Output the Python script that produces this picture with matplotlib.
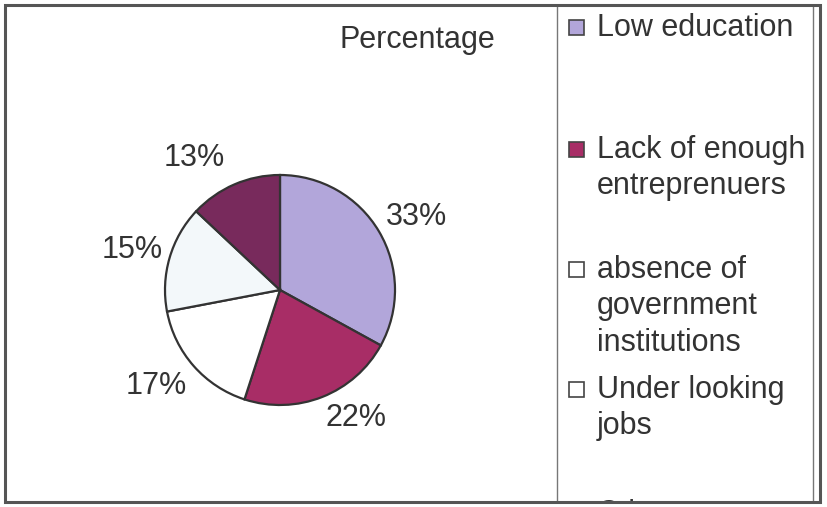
import matplotlib
matplotlib.use("Agg")
import matplotlib.pyplot as plt
from matplotlib.patches import Rectangle

plt.rcParams['font.family'] = ['Liberation Sans', 'DejaVu Sans']

# data
categories = ["Low education", "Lack of enough\nentreprenuers",
              "absence of\ngovernment\ninstitutions", "Under looking\njobs", "Other"]
values = [33, 22, 17, 15, 13]
colors = ["#b2a6da", "#a82d66", "#ffffff", "#f3f8fa", "#782a5c"]
legend_colors = ["#b2a6da", "#a82d66", "#ffffff", "#ffffff", "#782a5c"]
title = "Percentage"

W, H = 827, 507
txt = "#333333"
fs = 22

fig = plt.figure(figsize=(W / 100, H / 100), dpi=100)

# pie, in a full-figure axes measured in pixels (y up)
ax = fig.add_axes([0, 0, 1, 1])
wedges, texts, autotexts = ax.pie(
    values, colors=colors, startangle=90, counterclock=False,
    center=(280, H - 290), radius=115,
    autopct="%1.0f%%", pctdistance=1.33,
    wedgeprops=dict(edgecolor="#333333", linewidth=1.6),
    textprops=dict(fontsize=fs, color=txt))
ax.set_xlim(0, W)
ax.set_ylim(0, H)
ax.set_aspect("auto")
ax.axis("off")

# excel "best fit" label spots (pixels from top-left)
label_spots = [(416, 217), (356, 418), (156, 386), (132, 250), (194, 158)]
for t, (x, y) in zip(autotexts, label_spots):
    t.set_position((x, H - y))
    t.set_ha("center")
    t.set_va("center")

ax.text(417, H - 40, title, fontsize=fs, color=txt, ha="center", va="center")

# outer border
fig.patches.append(Rectangle((5 / W, (H - 502) / H), 815 / W, 497 / H,
                             transform=fig.transFigure, fill=False,
                             edgecolor="#555555", linewidth=2.2))

# legend box (pixel coords, y down), clipped at the bottom like the original
lg = fig.add_axes([557 / W, (H - 502) / H, (813 - 557) / W, 497 / H])
lg.set_xlim(557, 813)
lg.set_ylim(502, 5)
lg.set_xticks([])
lg.set_yticks([])
for s in ["top", "bottom"]:
    lg.spines[s].set_visible(False)
lg.spines["left"].set_color("#777777")
lg.spines["right"].set_color("#777777")
lg.spines["left"].set_linewidth(1.0)
lg.spines["right"].set_linewidth(1.0)
lg.patch.set_alpha(0)

entry_tops = [28, 150, 270, 390, 514]
line_h = 36.5
for lab, col, y in zip(categories, legend_colors, entry_tops):
    lg.add_patch(Rectangle((569, y - 8), 15, 15, facecolor=col,
                           edgecolor="#444444", linewidth=1.2, clip_on=True))
    for i, line in enumerate(lab.split("\n")):
        lg.text(597, y + i * line_h, line, fontsize=fs, color=txt,
                ha="left", va="center", clip_on=True)

fig.savefig("out.png", dpi=100)
